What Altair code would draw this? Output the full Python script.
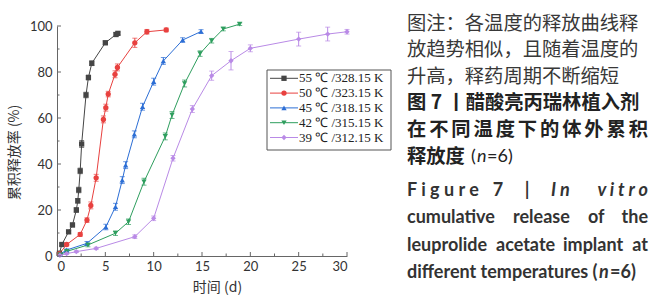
import altair as alt
import pandas as pd

# ---------------- data ----------------
series_names = ["55 ℃ /328.15 K", "50 ℃ /323.15 K", "45 ℃ /318.15 K",
                "42 ℃ /315.15 K", "39 ℃ /312.15 K"]
series_colors = ["#454545", "#e8413f", "#2c6ed5", "#2e9e5e", "#b98ae6"]
series_shapes = ["square", "circle", "triangle-up", "triangle-down", "diamond"]

d55 = [0.25, 0.5, 1.2, 1.6, 2.0, 2.15, 2.25, 2.4, 2.55, 3.0, 3.25, 3.6, 5.0, 6.1, 6.3]
v55 = [1.2, 5.0, 10.5, 13.5, 20.0, 24.0, 28.7, 37.0, 48.7, 70.0, 77.6, 83.8, 92.7, 96.3, 96.8]
s55 = [0.3, 0.5, 0.6, 0.8, 1.0, 1.0, 1.2, 1.2, 1.5, 1.2, 1.0, 1.0, 0.8, 0.8, 0.6]

d50 = [0.25, 1.0, 2.4, 3.1, 3.5, 4.05, 4.8, 5.05, 5.3, 6.0, 6.25, 8.05, 9.3, 11.3]
v50 = [1.0, 5.0, 9.4, 15.6, 22.0, 34.0, 59.4, 64.5, 70.4, 79.0, 82.0, 92.7, 97.5, 98.3]
s50 = [0.3, 0.6, 0.8, 1.0, 1.5, 1.5, 1.5, 1.5, 1.2, 1.5, 1.5, 2.0, 1.0, 0.8]

d45 = [0.3, 1.0, 3.1, 5.05, 6.05, 6.75, 7.1, 8.0, 8.85, 10.0, 11.0, 13.0, 14.9]
v45 = [0.8, 2.6, 5.5, 12.6, 21.4, 33.0, 39.5, 52.9, 64.9, 75.8, 84.8, 93.9, 97.6]
s45 = [0.3, 0.5, 0.8, 1.2, 1.5, 1.5, 1.5, 1.5, 1.5, 1.5, 1.5, 1.0, 0.8]

d42 = [0.3, 1.0, 3.2, 6.05, 7.4, 9.0, 11.2, 11.9, 13.2, 14.8, 16.0, 17.2, 18.9]
v42 = [0.5, 2.0, 4.8, 9.9, 14.9, 32.3, 52.0, 61.3, 75.0, 88.0, 93.6, 98.7, 100.8]
s42 = [0.3, 0.5, 0.8, 1.0, 1.2, 1.5, 1.5, 1.5, 1.5, 1.2, 1.0, 0.8, 0.6]

d39 = [0.3, 1.0, 2.0, 4.05, 8.05, 10.0, 12.0, 14.0, 16.0, 18.0, 20.0, 25.0, 28.0, 30.0]
v39 = [0.3, 1.0, 1.9, 3.3, 8.4, 16.4, 42.5, 63.9, 78.4, 84.9, 90.3, 94.3, 96.5, 97.5]
s39 = [0.2, 0.3, 0.4, 0.5, 0.8, 1.0, 1.2, 1.5, 2.0, 4.0, 1.5, 3.0, 3.0, 1.0]

x_ticks_major = [0, 5, 10, 15, 20, 25, 30]
x_ticks_minor = [2.5, 7.5, 12.5, 17.5, 22.5, 27.5]
y_ticks_major = [0, 20, 40, 60, 80, 100]
y_ticks_minor = [10, 30, 50, 70, 90]

x_title = "时间 (d)"
y_title = "累积释放率 (%)"

caption_cn = ["图注：各温度的释放曲线释", "放趋势相似，且随着温度的", "升高，释药周期不断缩短",
              "图 7 丨醋酸亮丙瑞林植入剂", "在不同温度下的体外累积", "释放度"]
caption_n = ["(", "n", "=6)"]
caption_en_fig = ["F i g u r e", "7", "|", "I n", "v i t r o"]
caption_en_l2 = ["cumulative", "release", "of", "the"]
caption_en_l3 = ["leuprolide", "acetate", "implant", "at"]
caption_en_l4 = ["different temperatures (", "n", "=6)"]

# ---------------- build tables ----------------
rows = []
for name, ds, vs, ss in zip(series_names, [d55, d50, d45, d42, d39],
                            [v55, v50, v45, v42, v39], [s55, s50, s45, s42, s39]):
    for d, v, s in zip(ds, vs, ss):
        rows.append({"series": name, "day": d, "value": v, "lo": v - s, "hi": v + s})
df = pd.DataFrame(rows)
caps = pd.concat([
    df[["series", "day", "lo"]].rename(columns={"lo": "value"}),
    df[["series", "day", "hi"]].rename(columns={"hi": "value"}),
])

W, H = 290, 230
PL, PT = 57, 26

x_axis = alt.Axis(values=x_ticks_major, format="d", ticks=False, grid=False,
                  domainColor="#666", domainWidth=1, labelPadding=4,
                  labelFont="Lato", labelFontSize=13, labelColor="#333",
                  title=x_title, titleFont="Noto Sans CJK SC", titleFontSize=14,
                  titleFontWeight="normal", titleColor="#333",
                  titleX=160, titleY=31, titleBaseline="middle", titleAlign="center")
y_axis = alt.Axis(values=y_ticks_major, format="d", ticks=False, grid=False,
                  domainColor="#666", domainWidth=1, labelPadding=5,
                  labelFont="Lato", labelFontSize=13, labelColor="#333",
                  title=y_title, titleFont="Noto Sans CJK SC", titleFontSize=14,
                  titleFontWeight="normal", titleColor="#333",
                  titleX=-43, titleY=126, titleBaseline="middle", titleAlign="center",
                  titleAngle=270)

xs = alt.Scale(domain=[0, 30], nice=False, zero=False)
ys = alt.Scale(domain=[0, 100], nice=False)
cscale = alt.Scale(domain=series_names, range=series_colors)

base = alt.Chart(df)
X = alt.X("day:Q", scale=xs, axis=x_axis)
Y = alt.Y("value:Q", scale=ys, axis=y_axis)
C = alt.Color("series:N", scale=cscale, legend=None)

lines = base.mark_line(strokeWidth=1).encode(x=X, y=Y, color=C)
errs = base.mark_rule(strokeWidth=1).encode(
    x=X, y=alt.Y("lo:Q", scale=ys, axis=y_axis), y2="hi:Q", color=C)
capmarks = alt.Chart(caps).mark_tick(thickness=1, size=5, orient="horizontal").encode(
    x=X, y=Y, color=C)
point_layers = [
    base.transform_filter(alt.datum.series == nm).mark_point(
        shape=shp, filled=True, size=28, opacity=1).encode(x=X, y=Y, color=C)
    for nm, shp in zip(series_names, series_shapes)
]

# inward axis ticks
def yt(vals, length):
    return alt.Chart(pd.DataFrame({"value": vals})).mark_rule(color="#666", strokeWidth=1).encode(
        y=alt.Y("value:Q", scale=ys, axis=y_axis), x=alt.value(0), x2=alt.value(length))

def xt(vals, length):
    return alt.Chart(pd.DataFrame({"day": vals})).mark_rule(color="#666", strokeWidth=1).encode(
        x=alt.X("day:Q", scale=xs, axis=x_axis), y=alt.value(H), y2=alt.value(H - length))

ticks = [yt(y_ticks_major, 4), yt(y_ticks_minor, 2.5), xt(x_ticks_major, 4), xt(x_ticks_minor, 2.5)]

# ---------------- legend (boxed, line + marker per series) ----------------
one = pd.DataFrame({"k": [0]})
BOX_L, BOX_R, BOX_T, BOX_B = 267, 391, 70, 150
ROW0, ROWSTEP = 78.3, 14.8
legend_layers = [
    alt.Chart(one).mark_rect(fill="white", stroke="#555", strokeWidth=1).encode(
        x=alt.value(BOX_L - PL), x2=alt.value(BOX_R - PL),
        y=alt.value(BOX_T - PT), y2=alt.value(BOX_B - PT))
]
for i, (nm, col, shp) in enumerate(zip(series_names, series_colors, series_shapes)):
    yy = ROW0 + i * ROWSTEP - PT
    legend_layers.append(alt.Chart(one).mark_rule(color=col, strokeWidth=1).encode(
        x=alt.value(270 - PL), x2=alt.value(298 - PL), y=alt.value(yy)))
    legend_layers.append(alt.Chart(one).mark_point(
        shape=shp, filled=True, size=28, color=col, opacity=1).encode(
        x=alt.value(284 - PL), y=alt.value(yy)))
    legend_layers.append(alt.Chart(one).mark_text(
        text=nm, font="Liberation Sans Narrow", fontSize=13, color="#222",
        align="left", baseline="middle").encode(x=alt.value(299 - PL), y=alt.value(yy)))

# ---------------- caption text ----------------
CN = 19.3

def txt(s, x_abs, y_abs, font="Noto Sans CJK SC", size=CN, weight="normal",
        style="normal", align="left", color="#333"):
    return alt.Chart(one).mark_text(
        text=s, font=font, fontSize=size, fontWeight=weight, fontStyle=style,
        align=align, baseline="middle", color=color,
    ).encode(x=alt.value(x_abs - PL), y=alt.value(y_abs - PT))

LEFT, RIGHT = 407, 648
cap_layers = []
cap_y = [24, 50, 77, 103, 130, 157]
for i, s in enumerate(caption_cn[:4]):
    cap_layers.append(txt(s, LEFT, cap_y[i], weight="bold" if i >= 3 else "normal",
                          color="#222" if i >= 3 else "#383838"))
chars = list(caption_cn[4])
step = (RIGHT - LEFT - CN) / (len(chars) - 1)
for j, ch in enumerate(chars):
    cap_layers.append(txt(ch, LEFT + CN / 2 + j * step, cap_y[4], weight="bold",
                          align="center", color="#222"))
cap_layers.append(txt(caption_cn[5], LEFT, cap_y[5], weight="bold", color="#222"))
cap_layers.append(txt(caption_n[0], 471, cap_y[5], font="Lato", size=18, color="#222"))
cap_layers.append(txt(caption_n[1], 477, cap_y[5], font="Lato", size=18, style="italic", color="#222"))
cap_layers.append(txt(caption_n[2], 487, cap_y[5], font="Lato", size=18, color="#222"))

EN = dict(font="Lato", size=18, weight="bold", color="#333")
cap_layers.append(txt(caption_en_fig[0], LEFT, 191, **EN))
cap_layers.append(txt(caption_en_fig[1], 498, 191, align="center", **EN))
cap_layers.append(txt(caption_en_fig[2], 527, 191, align="center", **EN))
cap_layers.append(txt(caption_en_fig[3], 551, 191, style="italic", **EN))
cap_layers.append(txt(caption_en_fig[4], RIGHT, 191, style="italic", align="right", **EN))

cap_layers.append(txt(caption_en_l2[0], LEFT, 218, **EN))
cap_layers.append(txt(caption_en_l2[1], 513, 218, **EN))
cap_layers.append(txt(caption_en_l2[2], 588, 218, **EN))
cap_layers.append(txt(caption_en_l2[3], RIGHT, 218, align="right", **EN))

cap_layers.append(txt(caption_en_l3[0], LEFT, 246, **EN))
cap_layers.append(txt(caption_en_l3[1], 496, 246, **EN))
cap_layers.append(txt(caption_en_l3[2], 563, 246, **EN))
cap_layers.append(txt(caption_en_l3[3], RIGHT, 246, align="right", **EN))

cap_layers.append(txt(caption_en_l4[0], LEFT, 273, **EN))
cap_layers.append(txt(caption_en_l4[1], 599, 273, style="italic", **EN))
cap_layers.append(txt(caption_en_l4[2], 610, 273, **EN))

chart = alt.layer(lines, errs, capmarks, *point_layers, *ticks, *legend_layers,
                  *cap_layers).properties(
    width=W, height=H,
    autosize=alt.AutoSizeParams(type="none"),
    padding={"left": PL, "top": PT, "right": 665 - PL - W, "bottom": 300 - PT - H},
    background="white",
).configure_view(strokeWidth=0)

chart.save("out.html", embed_options={"renderer": "svg", "actions": False})
